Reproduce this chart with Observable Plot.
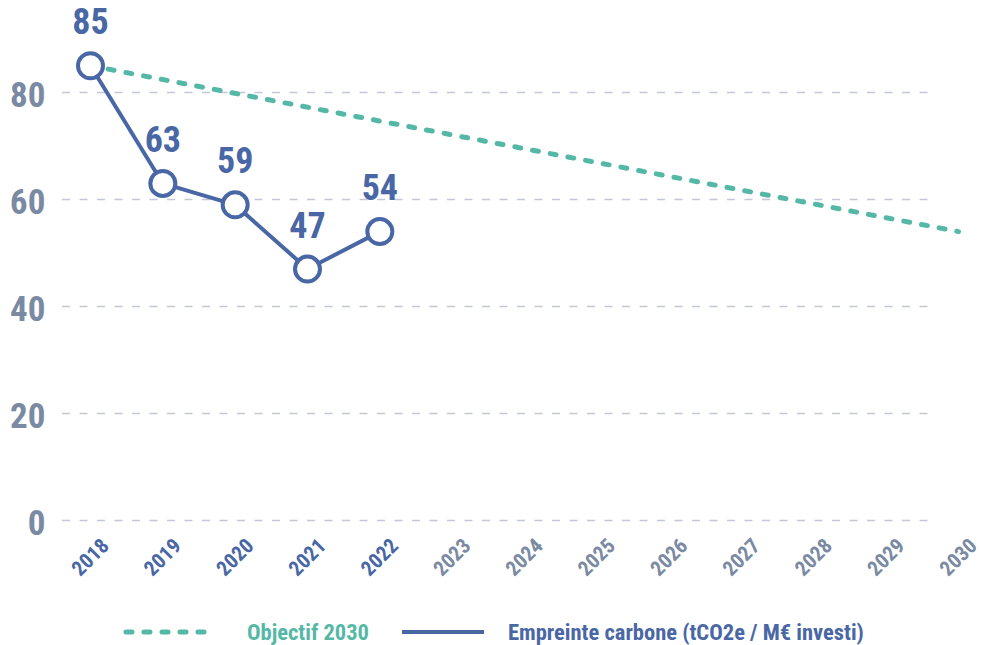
<!DOCTYPE html>
<html>
<head>
<meta charset="utf-8">
<script src="https://cdn.jsdelivr.net/npm/d3@7"></script>
<script src="https://cdn.jsdelivr.net/npm/@observablehq/plot@0.6"></script>
<style>
  html, body { margin: 0; padding: 0; background: #fff; }
  body { width: 981px; height: 645px; overflow: hidden; font-family: "Roboto Condensed", "Open Sans Condensed", "Liberation Sans Narrow", "DejaVu Sans Condensed", sans-serif; }
  #legend { height: 44px; display: flex; align-items: center; justify-content: flex-start; padding-left: 123px; font-weight: bold; font-size: 22.5px; }
  #legend .item { display: flex; align-items: center; }
  #legend svg { display: block; }
</style>
</head>
<body>
<div id="chart"></div>
<div id="legend"></div>
<script>
const years = [2018, 2019, 2020, 2021, 2022];
const empreinte = [85, 63, 59, 47, 54];
const objectifYears = [2018, 2030];
const objectifValues = [85, 54];
const pastTicks = [2018, 2019, 2020, 2021, 2022];
const futureTicks = [2023, 2024, 2025, 2026, 2027, 2028, 2029, 2030];
const yTicks = [0, 20, 40, 60, 80];
const seriesNames = ["Objectif 2030", "Empreinte carbone (tCO2e / M€ investi)"];

const BLUE = "#4a67a5";
const TEAL = "#55b8a6";
const GRAY = "#7b8aa3";
const GRID = "#c3c7d6";
const FONT = '"Roboto Condensed", "Open Sans Condensed", "Liberation Sans Narrow", "DejaVu Sans Condensed", sans-serif';

const data = years.map((y, i) => ({year: y, value: empreinte[i]}));
const objectif = objectifYears.map((y, i) => ({year: y, value: objectifValues[i]}));

const chart = Plot.plot({
  width: 981,
  height: 610,
  marginLeft: 90,
  marginRight: 23,
  marginTop: 92,
  marginBottom: 90,
  style: {fontFamily: FONT, background: "#fff"},
  x: {domain: [2018, 2030]},
  y: {domain: [0, 80]},
  marks: [
    Plot.gridY(yTicks, {stroke: GRID, strokeOpacity: 1, strokeWidth: 1.5, strokeDasharray: "8,9.5", insetLeft: -28, insetRight: 28}),
    Plot.axisY(yTicks, {tickSize: 0, tickPadding: 45, fill: GRAY, fontSize: 35, fontWeight: "bold", dy: 3, label: null}),
    Plot.axisX(pastTicks, {tickSize: 0, tickRotate: -45, textAnchor: "middle", lineAnchor: "middle", tickPadding: 37, fill: BLUE, fontSize: 21, fontWeight: "bold", label: null, tickFormat: d => String(d)}),
    Plot.axisX(futureTicks, {tickSize: 0, tickRotate: -45, textAnchor: "middle", lineAnchor: "middle", tickPadding: 37, fill: GRAY, fontSize: 21, fontWeight: "bold", label: null, tickFormat: d => String(d)}),
    Plot.line(objectif, {x: "year", y: "value", stroke: TEAL, strokeWidth: 5, strokeDasharray: "6,12", strokeLinecap: "round"}),
    Plot.line(data, {x: "year", y: "value", stroke: BLUE, strokeWidth: 4}),
    Plot.dot(data, {x: "year", y: "value", r: 12.5, fill: "white", stroke: BLUE, strokeWidth: 4}),
    Plot.text(data, {x: "year", y: "value", text: d => String(d.value), dy: -43, fill: BLUE, fontSize: 36, fontWeight: "bold"})
  ]
});
document.getElementById("chart").appendChild(chart);

// legend
const legend = document.getElementById("legend");
function item(dashed, color, label, lineW, gapAfterLine, gapAfterText) {
  const wrap = document.createElement("div");
  wrap.className = "item";
  wrap.style.marginRight = gapAfterText + "px";
  const svg = d3.create("svg").attr("width", lineW).attr("height", 12);
  svg.append("line").attr("x1", dashed ? 3 : 0).attr("x2", dashed ? lineW - 3 : lineW).attr("y1", 6).attr("y2", 6)
    .attr("stroke", color).attr("stroke-width", dashed ? 5 : 4)
    .attr("stroke-dasharray", dashed ? "6,12" : null).attr("stroke-linecap", dashed ? "round" : "butt");
  const s = svg.node();
  s.style.marginRight = gapAfterLine + "px";
  wrap.appendChild(s);
  const t = document.createElement("span");
  t.textContent = label;
  t.style.color = color;
  wrap.appendChild(t);
  legend.appendChild(wrap);
}
item(true, TEAL, seriesNames[0], 87, 37, 33);
item(false, BLUE, seriesNames[1], 82, 24, 0);
</script>
</body>
</html>
